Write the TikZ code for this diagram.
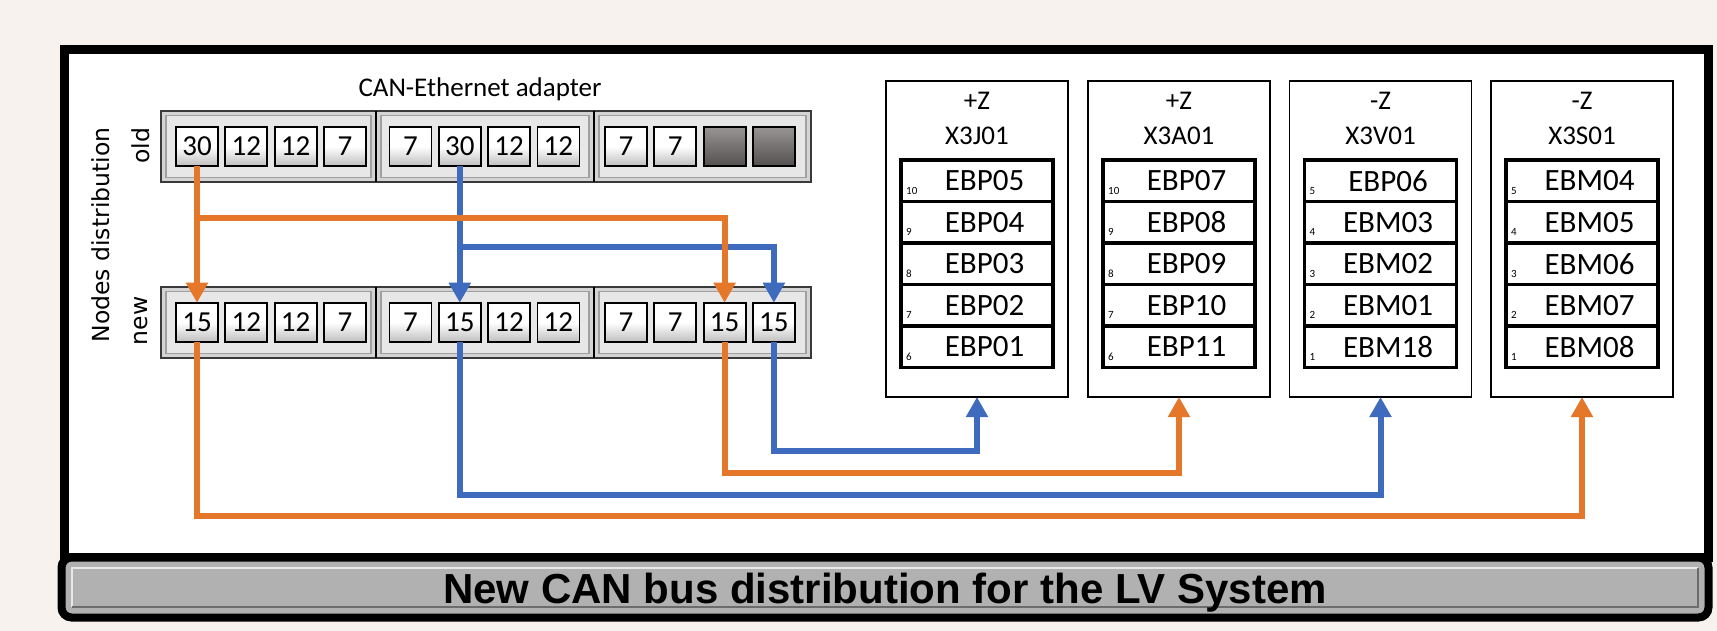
\documentclass[tikz,border=0pt]{standalone}
\usepackage{fontspec}
\setmainfont{Carlito}
\newfontfamily\verdfont{DejaVu Sans}
\newfontfamily\arialfont{Liberation Sans}
\usepackage{tikz}
\usetikzlibrary {arrows.meta}
\usetikzlibrary{calc}

\definecolor{bgpaper}{HTML}{F7F2EE}
\definecolor{wireorange}{HTML}{E5772B}
\definecolor{wireblue}{HTML}{3F6BBE}
\definecolor{railgray}{HTML}{D4D4D4}
\definecolor{railedge}{HTML}{3A3A3A}
\definecolor{railbevel}{HTML}{A0A0A0}
\definecolor{cellshade}{HTML}{BDBDBD}
\definecolor{cellempty}{HTML}{777272}
\definecolor{bargray}{HTML}{B1B1B1}

\tikzset{
	cell/.style={draw=black, line width=1.8pt, minimum width=42pt, minimum height=39.5pt, inner sep=0pt, outer sep=0pt, top color=white, bottom color=cellshade, middle color=white, font=\fontsize{29}{29}\selectfont},
	emptycell/.style={cell, top color=cellempty!75!white, bottom color=cellempty!70!black, middle color=cellempty},
	unitbox/.style={draw=black, line width=1.5pt, fill=white, minimum width=182pt, minimum height=316pt, inner sep=0pt, outer sep=0pt},
	slot/.style={draw=black, line width=3.5pt, minimum width=152pt, minimum height=41.5pt, inner sep=0pt, outer sep=0pt, font=\fontsize{31}{31}\selectfont},
	hdr/.style={font=\fontsize{27}{27}\selectfont, inner sep=0pt, anchor=base},
	pinno/.style={font=\fontsize{11}{11}\selectfont, inner sep=0pt, anchor=base west},
	sidelbl/.style={font=\verdfont\fontsize{23.5}{23.5}\selectfont, inner sep=0pt, rotate=90},
	orangewire/.style={draw=wireorange, line width=6pt, -{Triangle[width=21pt,length=20pt]}},
	bluewire/.style={draw=wireblue, line width=6pt, -{Triangle[width=21pt,length=20pt]}}
}

\begin{document}
\begin{tikzpicture}[x=1pt, y=-1pt]
	\useasboundingbox (0,0) rectangle (1717,631);
	\fill[bgpaper] (0,0) rectangle (1717,631);
	\draw[line width=9pt, fill=white] (64.5,50) rectangle (1708,557);

	\node[hdr] (adapter) at (480,97) {CAN-Ethernet adapter};
	\node[sidelbl] (nodesdist) at (101,235) {Nodes distribution};
	\node[sidelbl] (oldlbl) at (141,146) {old};
	\node[sidelbl] (newlbl) at (141,321) {new};

	\foreach \ty in {111,287} {
		\foreach \sa/\sb in {161/376,376/594,594/811} {
			\draw[railedge, line width=1.5pt, fill=railgray] (\sa,\ty) rectangle (\sb,\ty+71);
			\draw[railbevel, line width=1.2pt, fill=railgray!55!white] (\sa+5,\ty+4.5) rectangle (\sb-5,\ty+66.5);
		}
		\draw[line width=2pt] (376,\ty) -- (376,\ty+71) (594,\ty) -- (594,\ty+71);
	}

	\foreach \row/\cy/\vals in {old/146.5/{30,12,12,7,7,30,12,12,7,7}, new/322.5/{15,12,12,7,7,15,12,12,7,7,15,15}} {
		\foreach \v [count=\i] in \vals {
			\pgfmathtruncatemacro\s{(\i-1)/4}
			\pgfmathsetmacro\cx{{175,388.5,604}[\s]+22+49.3*(\i-1-4*\s)}
			\node[cell] (\row\i) at (\cx,\cy) {\v};
		}
	}
	\node[emptycell] (old11) at (724.6,146.5) {};
	\node[emptycell] (old12) at (773.9,146.5) {};

	\foreach \bid/\sg/\bx/\items in {
		X3J01/+Z/886/{10/EBP05,9/EBP04,8/EBP03,7/EBP02,6/EBP01},
		X3A01/+Z/1088/{10/EBP07,9/EBP08,8/EBP09,7/EBP10,6/EBP11},
		X3V01/-Z/1289.5/{5/EBP06,4/EBM03,3/EBM02,2/EBM01,1/EBM18},
		X3S01/-Z/1491/{5/EBM04,4/EBM05,3/EBM06,2/EBM07,1/EBM08}} {
		\node[unitbox, anchor=north west] (\bid) at (\bx,81) {};
		\node[hdr] (\bid-sg) at ($(\bid.north)+(0,29)$) {\sg};
		\node[hdr] (\bid-id) at ($(\bid.north)+(0,64)$) {\bid};
		\foreach \no/\nm [count=\r] in \items {
			\node[slot] (\bid-\r) at ($(\bid.north)+(0,58.25+41.5*\r)$) {\hspace*{15pt}\nm};
			\node[pinno] (\bid-\r n) at ($(\bid-\r.south west)+(5,-7)$) {\no};
		}
	}

	\draw[bluewire] (old6.south) -- (new6.north);
	\draw[bluewire] (old6.south) |- (new12.north |- 0,247) -- (new12.north);
	\draw[orangewire] (old1.south) -- (new1.north);
	\draw[orangewire] (old1.south) |- (new11.north |- 0,218) -- (new11.north);
	\draw[orangewire] (new1.south) |- (X3S01.south |- 0,516) -- (X3S01.south);
	\draw[bluewire] (new6.south) |- (X3V01.south |- 0,495) -- (X3V01.south);
	\draw[orangewire] (new11.south) |- (X3A01.south |- 0,473) -- (X3A01.south);
	\draw[bluewire] (new12.south) |- (X3J01.south |- 0,451) -- (X3J01.south);

	\node[draw=black, line width=8pt, fill=bargray, rounded corners=10pt, minimum width=1647pt, minimum height=60pt, inner sep=0pt] (bar) at (885,587.5) {};
	\draw[line width=1.5pt, white!82!gray] (72,607) -- (72,568) -- (1698,568);
	\draw[line width=1.5pt, gray!85!black] (72,607) -- (1698,607) -- (1698,568);
	\node[font=\arialfont\bfseries\fontsize{42}{42}\selectfont, inner sep=0pt, anchor=base] (title) at (885,603) {New CAN bus distribution for the LV System};
\end{tikzpicture}
\end{document}
